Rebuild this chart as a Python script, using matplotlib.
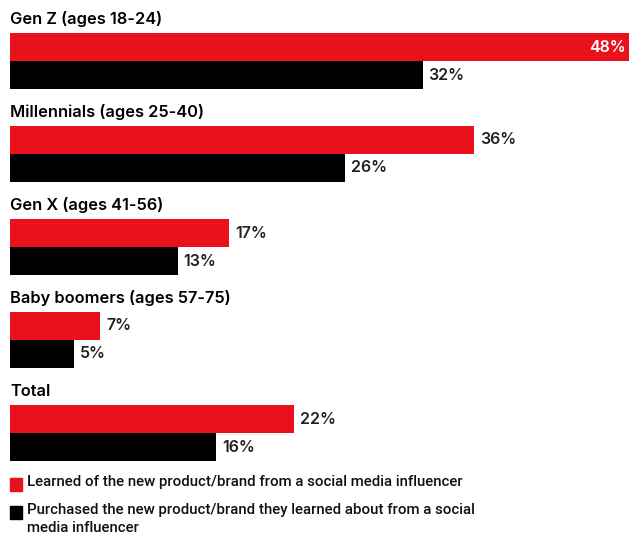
import matplotlib.pyplot as plt
from matplotlib.patches import Rectangle

groups = ['Gen Z (ages 18-24)', 'Millennials (ages 25-40)', 'Gen X (ages 41-56)',
          'Baby boomers (ages 57-75)', 'Total']
learned = [48, 36, 17, 7, 22]
purchased = [32, 26, 13, 5, 16]
legend_labels = ['Learned of the new product/brand from a social media influencer',
                 'Purchased the new product/brand they learned about from a social\nmedia influencer']

red = '#E8111C'
black = '#000000'
font = 'Inter'

fig = plt.figure(figsize=(6.3, 5.37), dpi=100)
# axes in pixel-like units vertically (0 at top)
ax = fig.add_axes([10 / 630, 0, 619 / 630, 1])
ax.set_xlim(0, 48)
ax.set_ylim(537, 0)
ax.axis('off')

step = 93
bh = 28
for i, g in enumerate(groups):
    y0 = 47 + i * step
    ax.text(0, y0 - 28, g, fontsize=11.8, fontweight='semibold', family=font,
            va='center', ha='left')
    ax.barh(y0, learned[i], height=bh, color=red, align='center')
    ax.barh(y0 + bh, purchased[i], height=bh, color=black, align='center')
    if learned[i] == max(learned):
        ax.text(learned[i] - 0.25, y0, f'{learned[i]}%', color='white', fontsize=11.5,
                fontweight='semibold', family=font, va='center', ha='right')
    else:
        ax.text(learned[i] + 0.45, y0, f'{learned[i]}%', color='#222222', fontsize=11.5,
                fontweight='semibold', family=font, va='center', ha='left')
    ax.text(purchased[i] + 0.45, y0 + bh, f'{purchased[i]}%', color='#222222', fontsize=11.5,
            fontweight='semibold', family=font, va='center', ha='left')

# legend
for j, (lab, c) in enumerate(zip(legend_labels, [red, black])):
    ly = 484 + j * 28
    fig.patches.append(Rectangle((10 / 630, 1 - (ly + 7) / 537), 12 / 630, 13 / 537,
                                 transform=fig.transFigure, color=c))
    fig.text(27 / 630, 1 - (ly - 9) / 537, lab, fontsize=10.8, family='Roboto',
             fontweight='medium', va='top', ha='left', color='#111111', linespacing=1.4)

fig.savefig('out.png', dpi=100, facecolor='white')
